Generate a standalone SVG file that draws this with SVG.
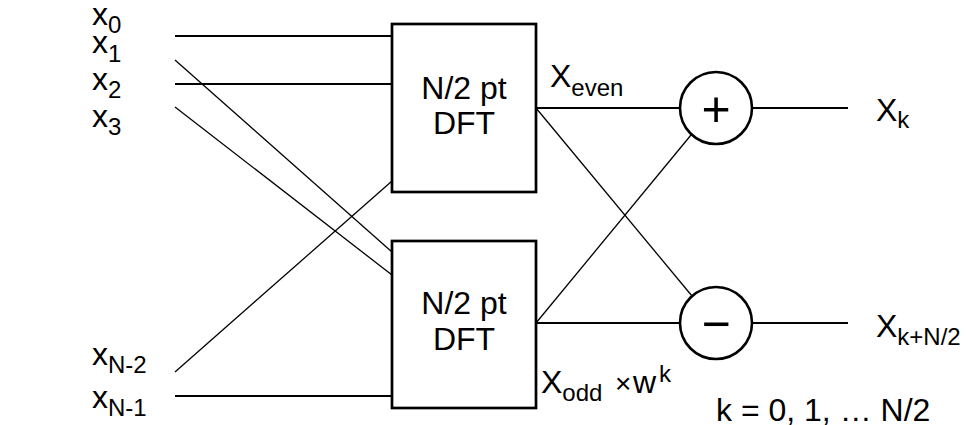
<svg xmlns="http://www.w3.org/2000/svg" width="966" height="425" viewBox="0 0 966 425">
<style>
text{font-family:"Liberation Sans",Arial,sans-serif;font-size:32px;fill:#000}
.sub{font-size:24px}
.box{fill:#fff;stroke:#000;stroke-width:2.7}
.sum{fill:#fff;stroke:#000;stroke-width:2.6}
.h{stroke:#000;stroke-width:2;fill:none}
.d{stroke:#000;stroke-width:1.3;fill:none}
.op{font-size:50px;text-anchor:middle}
.mid{text-anchor:middle}
</style>
<rect width="966" height="425" fill="#fff"/>
<g id="connectors">
<line class="h" x1="175" y1="36" x2="392" y2="36"/>
<line class="h" x1="175" y1="84" x2="392" y2="84"/>
<line class="d" x1="175" y1="60" x2="392" y2="252"/>
<line class="d" x1="175" y1="107" x2="392" y2="275"/>
<line class="d" x1="175" y1="372" x2="392" y2="181"/>
<line class="h" x1="175" y1="396" x2="392" y2="396"/>
<line class="h" x1="536" y1="108" x2="680" y2="108"/>
<line class="h" x1="536" y1="323" x2="680" y2="323"/>
<line class="d" x1="536" y1="108" x2="692" y2="296"/>
<line class="d" x1="536" y1="323" x2="691" y2="135"/>
<line class="h" x1="752" y1="108" x2="848" y2="108"/>
<line class="h" x1="752" y1="323" x2="848" y2="323"/>
</g>
<g id="inputs">
<text x="92" y="25">x<tspan class="sub" dy="8">0</tspan></text>
<text x="92" y="53">x<tspan class="sub" dy="9">1</tspan></text>
<text x="92" y="90">x<tspan class="sub" dy="8">2</tspan></text>
<text x="92" y="127">x<tspan class="sub" dy="8">3</tspan></text>
<text x="92" y="365">x<tspan class="sub" dy="8">N-2</tspan></text>
<text x="92" y="408">x<tspan class="sub" dy="8">N-1</tspan></text>
</g>
<g id="dft-even">
<rect class="box" x="392" y="24" width="144" height="168"/>
<text class="mid" x="464" y="99">N/2 pt</text>
<text class="mid" x="464" y="134">DFT</text>
</g>
<g id="dft-odd">
<rect class="box" x="392" y="241" width="144" height="167"/>
<text class="mid" x="464" y="314">N/2 pt</text>
<text class="mid" x="464" y="350">DFT</text>
</g>
<g id="label-even">
<text x="550" y="87">X<tspan class="sub" dy="9">even</tspan></text>
</g>
<g id="label-odd">
<text x="541" y="393">X<tspan class="sub" dy="8">odd</tspan><tspan x="615" dy="-8" font-size="28">×</tspan><tspan x="633">w</tspan><tspan class="sub" x="659" dy="-11">k</tspan></text>
</g>
<g id="adder">
<circle class="sum" cx="716" cy="108" r="36"/>
<text class="op" x="716" y="125.5">+</text>
</g>
<g id="subtractor">
<circle class="sum" cx="716" cy="323" r="36"/>
<text class="op" x="716" y="341">−</text>
</g>
<g id="outputs">
<text x="876" y="121">X<tspan class="sub" dy="7">k</tspan></text>
<text x="876" y="337">X<tspan class="sub" dy="8">k+N/2</tspan></text>
</g>
<g id="note">
<text x="716" y="421">k = 0, 1, … N/2</text>
</g>
</svg>
